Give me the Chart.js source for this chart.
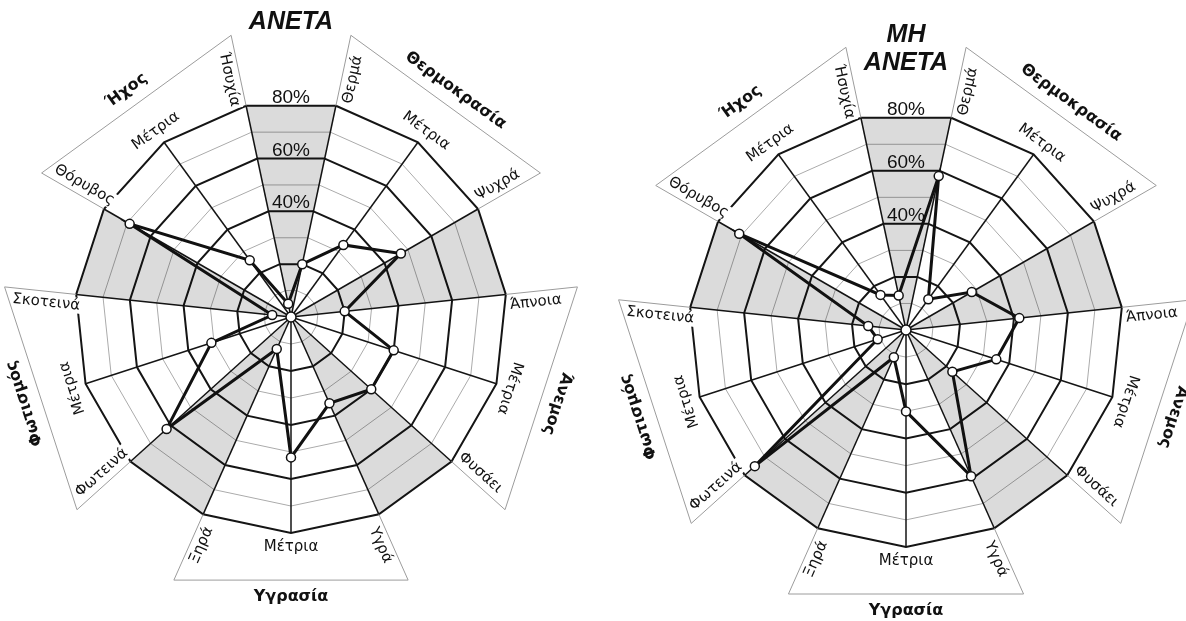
<!DOCTYPE html>
<html lang="el">
<head>
<meta charset="UTF-8">
<title>Άνετα / Μη άνετα</title>
<script src="https://cdn.jsdelivr.net/npm/chart.js"></script>
<style>
  * { margin: 0; padding: 0; box-sizing: border-box; }
  body { background: #fff; width: 1186px; height: 621px; overflow: hidden; position: relative; }
  canvas { position: absolute; top: 0; }
  #left { left: 0; }
  #right { left: 593px; }
</style>
</head>
<body>
<canvas id="left" width="593" height="621"></canvas>
<canvas id="right" width="593" height="621"></canvas>
<script>
const categories = ['Θερμά', 'Μέτρια', 'Ψυχρά', 'Άπνοια', 'Μέτρια', 'Φυσάει', 'Υγρά', 'Μέτρια', 'Ξηρά',
                    'Φωτεινά', 'Μέτρια', 'Σκοτεινά', 'Θόρυβος', 'Μέτρια', 'Ήσυχία'];
const groups = ['Θερμοκρασία', 'Άνεμος', 'Υγρασία', 'Φωτισμός', 'Ήχος'];
const groupSize = 3;

const comfortable = [20, 33, 47, 20, 40, 40, 35, 52, 13, 62, 31, 7, 69, 26, 5];
const uncomfortable = [58, 14, 28, 42, 35, 23, 59, 30, 11, 75, 11, 14, 71, 16, 13];

const tickValues = [40, 60, 80];
const tickLabels = ['40%', '60%', '80%'];
const maxValue = 80;

// grey wedges sit between groups: first and last spoke of each group reach the outer ring
const gapShade = categories.map((c, i) => (i % groupSize === 1 ? 0 : maxValue));

const labelFont = '15px "DejaVu Sans", sans-serif';
const groupFont = 'bold 16px "DejaVu Sans", sans-serif';

function readable(t) {
  if (t > 0.75 * Math.PI && t < 1.25 * Math.PI) return t - Math.PI;
  return t;
}

// rotated text with a white box behind it (labels sit over the outer ring)
function rotText(ctx, txt, x, y, rot, box) {
  ctx.save();
  ctx.translate(x, y);
  ctx.rotate(rot);
  if (box) {
    const w = ctx.measureText(txt).width;
    const fill = ctx.fillStyle;
    ctx.fillStyle = '#fff';
    ctx.fillRect(-w / 2 - 2, -8, w + 4, 16);
    ctx.fillStyle = fill;
  }
  ctx.fillText(txt, 0, 0);
  ctx.restore();
}

const decor = {
  id: 'decor',
  afterDraw(chart, args, opts) {
    const ctx = chart.ctx, s = chart.scales.r;
    const cx = s.xCenter, cy = s.yCenter, R = s.drawingArea;
    const at = (i, r) => s.getPointPosition(i, r);
    ctx.save();

    ctx.fillStyle = '#111';
    ctx.textAlign = 'center';
    ctx.textBaseline = 'middle';

    // category labels
    ctx.font = labelFont;
    categories.forEach((txt, i) => {
      const t = s.getIndexAngle(i), k = i % groupSize;
      const ux = Math.sin(t), uy = -Math.cos(t), tx = Math.cos(t), ty = Math.sin(t);
      if (k === 1) {
        rotText(ctx, txt, cx + (R + 14) * ux, cy + (R + 14) * uy, readable(t), true);
      } else {
        const rc = R + 29, side = k === 0 ? 1 : -1;
        const rot = t < Math.PI ? t - Math.PI / 2 : t + Math.PI / 2;
        rotText(ctx, txt, cx + rc * ux + side * 11 * tx, cy + rc * uy + side * 11 * ty, rot, true);
      }
    });

    // group frames
    ctx.strokeStyle = '#9c9c9c';
    ctx.lineWidth = 1;
    groups.forEach((g, gi) => {
      const f = gi * groupSize, l = f + groupSize - 1;
      const a = at(f, R), b = at(f, R + 72), c = at(l, R + 72), d = at(l, R);
      ctx.beginPath();
      ctx.moveTo(a.x, a.y); ctx.lineTo(b.x, b.y); ctx.lineTo(c.x, c.y); ctx.lineTo(d.x, d.y);
      ctx.stroke();
    });

    // group names
    ctx.font = groupFont;
    groups.forEach((g, gi) => {
      const t = s.getIndexAngle(gi * groupSize + 1);
      rotText(ctx, g, cx + (R + 64) * Math.sin(t), cy - (R + 64) * Math.cos(t), readable(t), false);
    });

    // percentage labels in the top wedge
    ctx.font = '19px "Liberation Sans", Arial, sans-serif';
    ctx.textBaseline = 'alphabetic';
    const n = categories.length;
    tickValues.forEach((v, j) => {
      const r = s.getDistanceFromCenterForValue(v);
      const p = at(n - 1, r), q = at(0, r);
      ctx.fillText(tickLabels[j], (p.x + q.x) / 2, (p.y + q.y) / 2 - 3);
    });

    // hub
    ctx.beginPath();
    ctx.arc(cx, cy, 5, 0, Math.PI * 2);
    ctx.fillStyle = '#fff';
    ctx.fill();
    ctx.strokeStyle = '#111';
    ctx.lineWidth = 1.5;
    ctx.stroke();

    // title
    ctx.fillStyle = '#111';
    ctx.font = 'italic bold 25px "Liberation Sans", Arial, sans-serif';
    ctx.textBaseline = 'middle';
    opts.title.forEach((line, j) => ctx.fillText(line, cx, opts.titleY + j * 28));
    ctx.restore();
  }
};

function makeChart(id, values, title, titleY, padding) {
  return new Chart(document.getElementById(id), {
    type: 'radar',
    data: {
      labels: categories,
      datasets: [
        {
          data: values,
          order: 0,
          fill: false,
          borderColor: '#111',
          borderWidth: 3,
          pointRadius: 4.5,
          pointBackgroundColor: '#fff',
          pointBorderColor: '#111',
          pointBorderWidth: 1.5
        },
        {
          data: gapShade,
          order: 1,
          fill: true,
          backgroundColor: 'rgba(0,0,0,0.14)',
          borderWidth: 0,
          pointRadius: 0
        }
      ]
    },
    options: {
      responsive: false,
      animation: false,
      layout: { padding: padding },
      plugins: {
        legend: { display: false },
        tooltip: { enabled: false },
        decor: { title: title, titleY: titleY }
      },
      scales: {
        r: {
          min: 0,
          max: maxValue,
          startAngle: 12,
          ticks: { display: false, stepSize: 10 },
          pointLabels: { display: false },
          grid: {
            color: c => (c.tick && c.tick.value % 20 === 0 ? '#151515' : '#ababab'),
            lineWidth: c => (c.tick && c.tick.value % 20 === 0 ? 2 : 1)
          },
          angleLines: { color: '#151515', lineWidth: 1.5 }
        }
      }
    },
    plugins: [decor]
  });
}

makeChart('left', comfortable, ['ANETA'], 22, { left: 75, top: 101, right: 86, bottom: 88 });
makeChart('right', uncomfortable, ['MH', 'ANETA'], 35, { left: 96, top: 113, right: 63, bottom: 74 });
</script>
</body>
</html>
